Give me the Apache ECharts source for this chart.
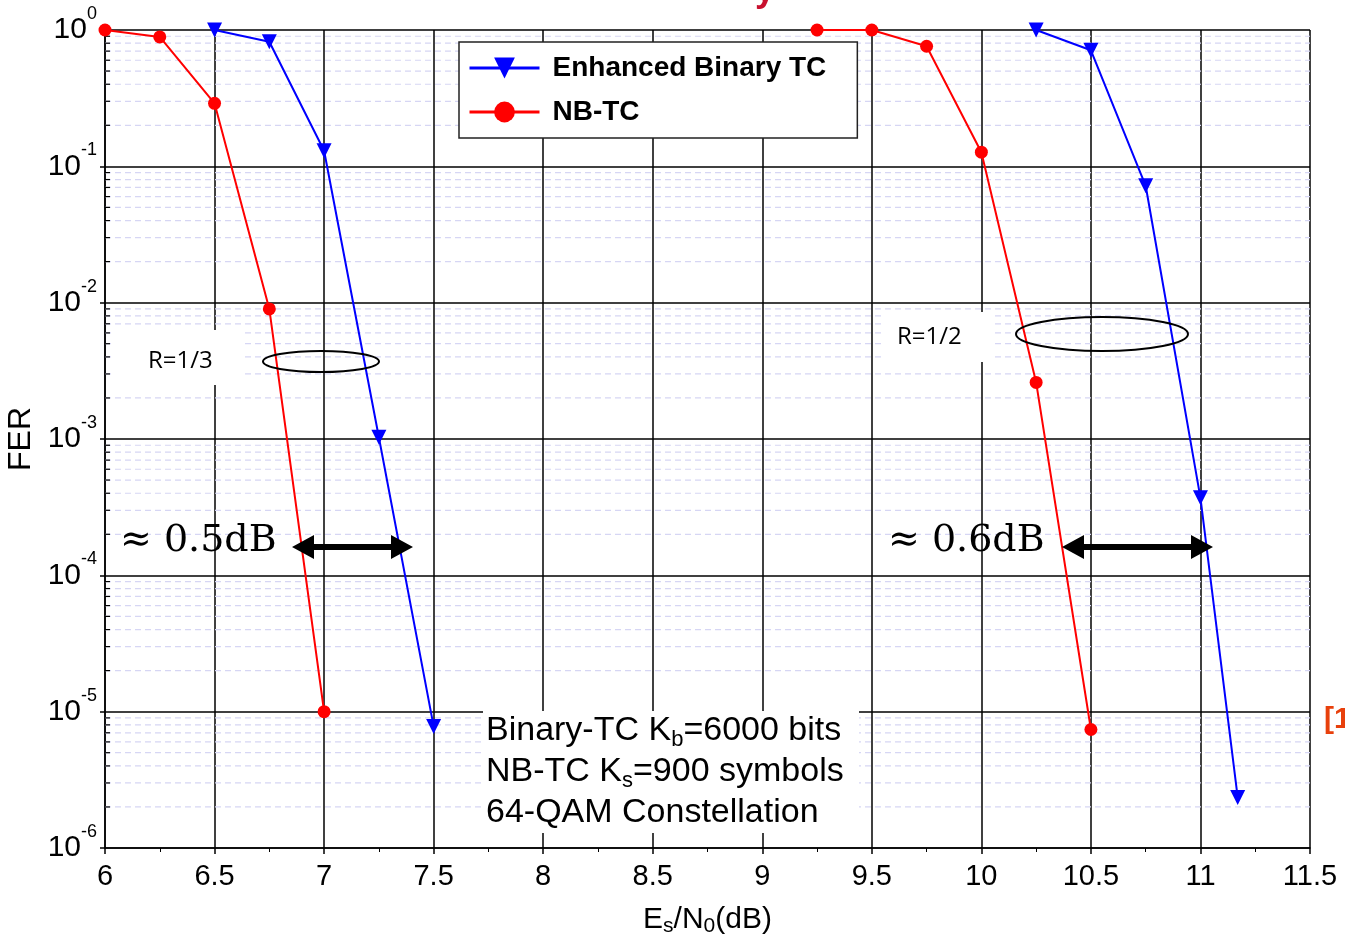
<!DOCTYPE html>
<html>
<head>
<meta charset="utf-8">
<script src="https://cdn.jsdelivr.net/npm/echarts@6/dist/echarts.min.js"></script>
<style>
  html, body { margin: 0; padding: 0; background: #fff; }
  #main { width: 1345px; height: 937px; }
</style>
</head>
<body>
<div id="main"></div>
<script>
// R=1/3 curves
var nb13X = [6, 6.25, 6.5, 6.75, 7.0];
var nb13Y = [1.0, 0.89, 0.29, 9e-3, 1e-5];
var eb13X = [6.5, 6.75, 7.0, 7.25, 7.5];
var eb13Y = [1.0, 0.82, 0.13, 1.03e-3, 7.8e-6];
// R=1/2 curves
var nb12X = [9.25, 9.5, 9.75, 10.0, 10.25, 10.5];
var nb12Y = [1.0, 1.0, 0.76, 0.127, 2.6e-3, 7.4e-6];
var eb12X = [10.25, 10.5, 10.75, 11.0, 11.17];
var eb12Y = [1.0, 0.71, 0.072, 3.7e-4, 2.35e-6];

var decades = [-6, -5, -4, -3, -2, -1];
var minorSteps = [2, 3, 4, 5, 6, 7, 8, 9];

var BLUE = '#0000ff';
var RED = '#ff0000';
var FONT = '"Liberation Sans", Arial, sans-serif';

function pairs(xs, ys) {
  return xs.map(function (x, i) { return [x, ys[i]]; });
}

// minor log positions (2..9 per decade)
var minorVals = [];
decades.forEach(function (d) {
  minorSteps.forEach(function (m) { minorVals.push([6, m * Math.pow(10, d)]); });
});

function curve(name, data, color, symbol) {
  var tri = symbol === 'triangle';
  return {
    name: name,
    type: 'line',
    data: data,
    symbol: symbol,
    symbolSize: tri ? 15 : 13,
    symbolRotate: tri ? 180 : 0,
    z: 5,
    lineStyle: { color: color, width: 2 },
    itemStyle: { color: color },
    emphasis: { disabled: true }
  };
}

// double headed arrow as a polygon
function arrow(x1, x2, y) {
  var hl = 22, hh = 12, sh = 3;
  return {
    type: 'polygon',
    z: 20,
    shape: {
      points: [
        [x1, y], [x1 + hl, y - hh], [x1 + hl, y - sh], [x2 - hl, y - sh],
        [x2 - hl, y - hh], [x2, y], [x2 - hl, y + hh], [x2 - hl, y + sh],
        [x1 + hl, y + sh], [x1 + hl, y + hh]
      ]
    },
    style: { fill: '#000' }
  };
}

var chart = echarts.init(document.getElementById('main'));
chart.setOption({
  backgroundColor: '#fff',
  animation: false,
  grid: { left: 105, right: 35, top: 30, bottom: 89, containLabel: false, outerBoundsMode: 'none' },
  legend: {
    orient: 'vertical',
    left: 459,
    top: 42,
    z: 30,
    padding: [12, 31, 12, 9],
    itemWidth: 70,
    itemHeight: 26,
    itemGap: 16,
    backgroundColor: '#fff',
    borderColor: '#222',
    borderWidth: 1.5,
    borderRadius: 0,
    lineStyle: { width: 3 },
    data: ['Enhanced Binary TC', 'NB-TC'],
    textStyle: { fontSize: 28, fontWeight: 'bold', color: '#000', fontFamily: FONT, padding: [0, 0, 0, 8] }
  },
  xAxis: {
    type: 'value',
    min: 6,
    max: 11.5,
    interval: 0.5,
    name: '{n|E}{sub|s}{n|/N}{sub|0}{n|(dB)}',
    nameLocation: 'middle',
    nameGap: 55,
    nameTextStyle: {
      rich: {
        n: { fontSize: 30, fontFamily: FONT, color: '#000', lineHeight: 34 },
        sub: { fontSize: 21, fontFamily: FONT, color: '#000', lineHeight: 22, verticalAlign: 'bottom' }
      }
    },
    axisLine: { lineStyle: { color: '#000', width: 1.5 } },
    axisTick: { show: true, length: 6, lineStyle: { color: '#000', width: 1.5 } },
    minorTick: { show: true, splitNumber: 2, length: 4, lineStyle: { color: '#000', width: 1 } },
    axisLabel: { fontSize: 29, color: '#000', fontFamily: FONT, margin: 14 },
    splitLine: { show: true, lineStyle: { color: '#000', width: 1.5 } }
  },
  yAxis: {
    type: 'log',
    logBase: 10,
    min: 1e-6,
    max: 1,
    name: 'FER',
    nameLocation: 'middle',
    nameGap: 67,
    nameTextStyle: { fontSize: 32, fontFamily: FONT, color: '#000' },
    axisLine: { lineStyle: { color: '#000', width: 1.5 } },
    axisTick: { show: true, length: 5, lineStyle: { color: '#000', width: 1.5 } },
    axisLabel: {
      margin: 8,
      formatter: function (v) {
        var e = Math.round(Math.log10(v));
        return '{b|10}{s|' + e + '}';
      },
      rich: {
        b: { fontSize: 30, fontFamily: FONT, color: '#000', lineHeight: 50 },
        s: { fontSize: 18, fontFamily: FONT, color: '#000', lineHeight: 10, verticalAlign: 'top' }
      }
    },
    splitLine: { show: true, lineStyle: { color: '#000', width: 1.5 } }
  },
  series: [
    {
      // dashed minor grid lines and small inside ticks on the log axis
      type: 'custom',
      silent: true,
      z: 1,
      data: minorVals,
      encode: { x: 0, y: 1 },
      renderItem: function (params, api) {
        var v = api.value(1);
        var p = api.coord([6, v]);
        var q = api.coord([11.5, v]);
        return {
          type: 'group',
          children: [
            { type: 'line', shape: { x1: p[0], y1: p[1], x2: q[0], y2: q[1] },
              style: { stroke: '#d6d6f4', lineWidth: 1.2, lineDash: [6, 4] } },
            { type: 'line', z2: 5, shape: { x1: p[0], y1: p[1], x2: p[0] + 5, y2: p[1] },
              style: { stroke: '#000', lineWidth: 1.2 } }
          ]
        };
      }
    },
    curve('Enhanced Binary TC', pairs(eb13X, eb13Y), BLUE, 'triangle'),
    curve('Enhanced Binary TC', pairs(eb12X, eb12Y), BLUE, 'triangle'),
    curve('NB-TC', pairs(nb13X, nb13Y), RED, 'circle'),
    curve('NB-TC', pairs(nb12X, nb12Y), RED, 'circle')
  ],
  graphic: [
    // R=1/3 label and ellipse
    { type: 'rect', z: 10, shape: { x: 112, y: 330, width: 131, height: 55 }, style: { fill: '#fff' } },
    { type: 'text', z: 11, x: 148, y: 361, style: { text: 'R=1/3', font: '24px "Open Sans", sans-serif', fill: '#000', verticalAlign: 'middle' } },
    { type: 'ellipse', z: 20, shape: { cx: 321, cy: 361.5, rx: 58, ry: 10.5 }, style: { fill: 'none', stroke: '#000', lineWidth: 2 } },
    // R=1/2 label and ellipse
    { type: 'rect', z: 10, shape: { x: 882, y: 312, width: 112, height: 50 }, style: { fill: '#fff' } },
    { type: 'text', z: 11, x: 897, y: 337, style: { text: 'R=1/2', font: '24px "Open Sans", sans-serif', fill: '#000', verticalAlign: 'middle' } },
    { type: 'ellipse', z: 20, shape: { cx: 1102, cy: 334, rx: 86, ry: 17 }, style: { fill: 'none', stroke: '#000', lineWidth: 2 } },
    // gap annotations
    { type: 'text', z: 20, x: 120, y: 541, style: { text: '\u2248 0.5dB', font: '38px "DejaVu Serif", serif', fill: '#000', verticalAlign: 'middle' } },
    arrow(292, 413, 547),
    { type: 'text', z: 20, x: 888, y: 541, style: { text: '\u2248 0.6dB', font: '38px "DejaVu Serif", serif', fill: '#000', verticalAlign: 'middle' } },
    arrow(1062, 1213, 547),
    // parameters box
    { type: 'rect', z: 10, shape: { x: 483, y: 711, width: 376, height: 122 }, style: { fill: '#fff' } },
    {
      type: 'text', z: 11, x: 486, y: 710,
      style: {
        text: '{n|Binary-TC K}{sub|b}{n|=6000 bits}\n{n|NB-TC K}{sub|s}{n|=900 symbols}\n{n|64-QAM Constellation}',
        rich: {
          n: { fontSize: 34, fontFamily: FONT, fill: '#000', lineHeight: 41 },
          sub: { fontSize: 22, fontFamily: FONT, fill: '#000', lineHeight: 28, verticalAlign: 'bottom' }
        }
      }
    },
    // cropped fragments at the edges
    { type: 'text', z: 20, x: 1324, y: 720, style: { text: '[1', font: 'bold 30px "Liberation Sans", sans-serif', fill: '#e8400c', verticalAlign: 'middle' } },
    { type: 'text', z: 20, x: 755, y: -27, style: { text: 'y', font: 'bold 36px "Liberation Sans", sans-serif', fill: '#c8102e', verticalAlign: 'top' } }
  ]
});
</script>
</body>
</html>
